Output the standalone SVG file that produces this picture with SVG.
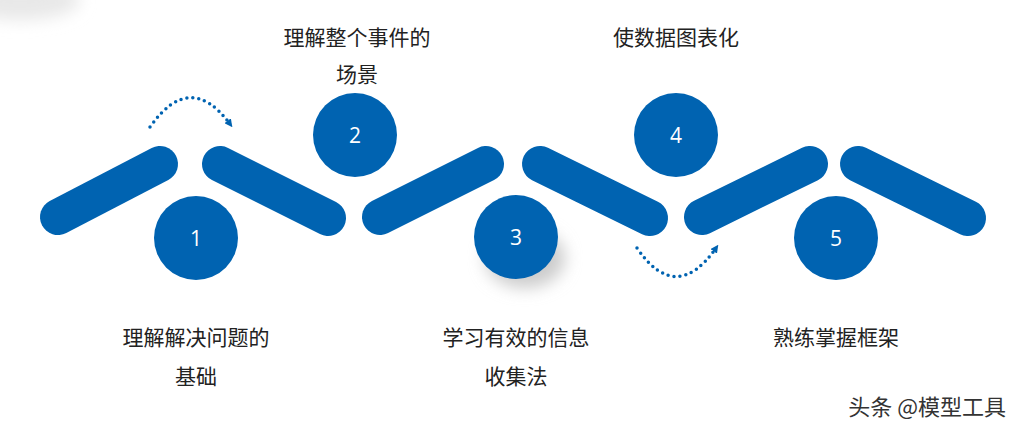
<svg xmlns="http://www.w3.org/2000/svg" width="1024" height="434" viewBox="0 0 1024 434">
<defs>
<style>
.bar{stroke:#0063b1;stroke-width:36;stroke-linecap:round;fill:none}
.c{fill:#0063b1}
.n{font-family:"Open Sans","Liberation Sans",sans-serif;font-size:21px;fill:#fff;text-anchor:middle}
.t{font-family:"Noto Sans CJK SC",sans-serif;font-size:21px;fill:#222;text-anchor:middle}
.dot{stroke:#0063b1;stroke-width:3.5;stroke-dasharray:0 6;stroke-linecap:round;fill:none}
</style>
<marker id="ah" markerWidth="8" markerHeight="8" refX="4" refY="4" orient="auto" markerUnits="userSpaceOnUse"><path d="M0,0 L8,4 L0,8 Z" fill="#0063b1" stroke="none"/></marker>
<filter id="sh" x="-50%" y="-50%" width="200%" height="200%"><feGaussianBlur stdDeviation="8"/></filter>
</defs>
<rect width="1024" height="434" fill="#fff"/>
<ellipse cx="20" cy="0" rx="60" ry="20" fill="#e8e8e8" filter="url(#sh)"/>
<g id="connectors">
<line class="bar" x1="58" y1="217" x2="160" y2="164"/>
<line class="bar" x1="220" y1="164" x2="328" y2="218"/>
<line class="bar" x1="380" y1="217" x2="486" y2="164"/>
<line class="bar" x1="540" y1="164" x2="650" y2="218"/>
<line class="bar" x1="702" y1="217" x2="810" y2="164"/>
<line class="bar" x1="858" y1="164" x2="968" y2="218"/>
<path class="dot" d="M150,127 Q190,70 230,124" marker-end="url(#ah)"/>
<path class="dot" d="M637,248 Q676,305 716,248" marker-end="url(#ah)"/>
</g>
<ellipse cx="525" cy="258" rx="40" ry="30" fill="#ccc" filter="url(#sh)"/>
<g id="n1"><circle class="c" cx="196" cy="238" r="42"/><text class="n" x="196" y="246">1</text>
<text class="t" x="196" y="345">理解解决问题的</text><text class="t" x="196" y="384">基础</text></g>
<g id="n2"><circle class="c" cx="355" cy="135" r="42"/><text class="n" x="355" y="143">2</text>
<text class="t" x="357" y="45">理解整个事件的</text><text class="t" x="357" y="82">场景</text></g>
<g id="n3"><circle class="c" cx="516" cy="237" r="42"/><text class="n" x="516" y="245">3</text>
<text class="t" x="516" y="345">学习有效的信息</text><text class="t" x="516" y="384">收集法</text></g>
<g id="n4"><circle class="c" cx="676" cy="135" r="42"/><text class="n" x="676" y="143">4</text>
<text class="t" x="676" y="45">使数据图表化</text></g>
<g id="n5"><circle class="c" cx="836" cy="238" r="42"/><text class="n" x="836" y="246">5</text>
<text class="t" x="836" y="345">熟练掌握框架</text></g>
<text x="1006" y="415" font-family="Noto Sans CJK SC,sans-serif" font-size="22" fill="#333" text-anchor="end">头条 @模型工具</text>
</svg>
